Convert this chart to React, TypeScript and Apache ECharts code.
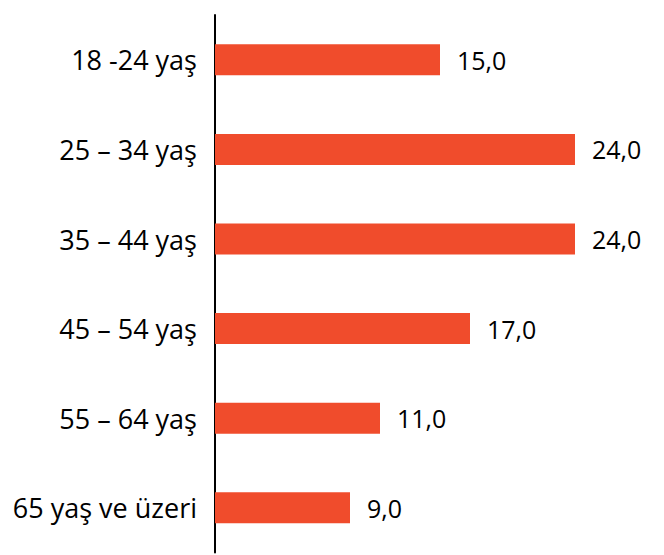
import React, { useEffect, useRef } from "react";
import * as echarts from "echarts";

const categories = ["18 -24 yaş", "25 – 34 yaş", "35 – 44 yaş", "45 – 54 yaş", "55 – 64 yaş", "65 yaş ve üzeri"];
const values = [15, 24, 24, 17, 11, 9];

export default function App() {
  const ref = useRef<HTMLDivElement>(null);
  useEffect(() => {
    if (!ref.current) return;
    const chart = echarts.init(ref.current, null, { renderer: "svg" });
    chart.setOption({
      animation: false,
      backgroundColor: "#ffffff",
      grid: { left: 215, right: 29, top: 15, bottom: 2.4, containLabel: false },
      xAxis: {
        type: "value",
        min: 0,
        max: 28,
        show: false,
        splitLine: { show: false },
      },
      yAxis: {
        type: "category",
        data: categories,
        inverse: true,
        axisLine: { show: true, lineStyle: { color: "#000000", width: 2 } },
        axisTick: { show: false },
        splitLine: { show: false },
        axisLabel: {
          margin: 18,
          color: "#000000",
          fontFamily: "Open Sans",
          fontSize: 27,
        },
      },
      series: [
        {
          type: "bar",
          data: values,
          barWidth: 31,
          itemStyle: { color: "#F04C2C" },
          label: {
            show: true,
            position: "right",
            distance: 17,
            color: "#000000",
            fontFamily: "Open Sans",
            fontSize: 25,
            formatter: (p: any) => Number(p.value).toFixed(1).replace(".", ","),
          },
        },
      ],
    });
    return () => chart.dispose();
  }, []);
  return (
    <div
      ref={ref}
      style={{ position: "fixed", left: 0, top: 0, width: 664, height: 555, background: "#fff" }}
    />
  );
}
